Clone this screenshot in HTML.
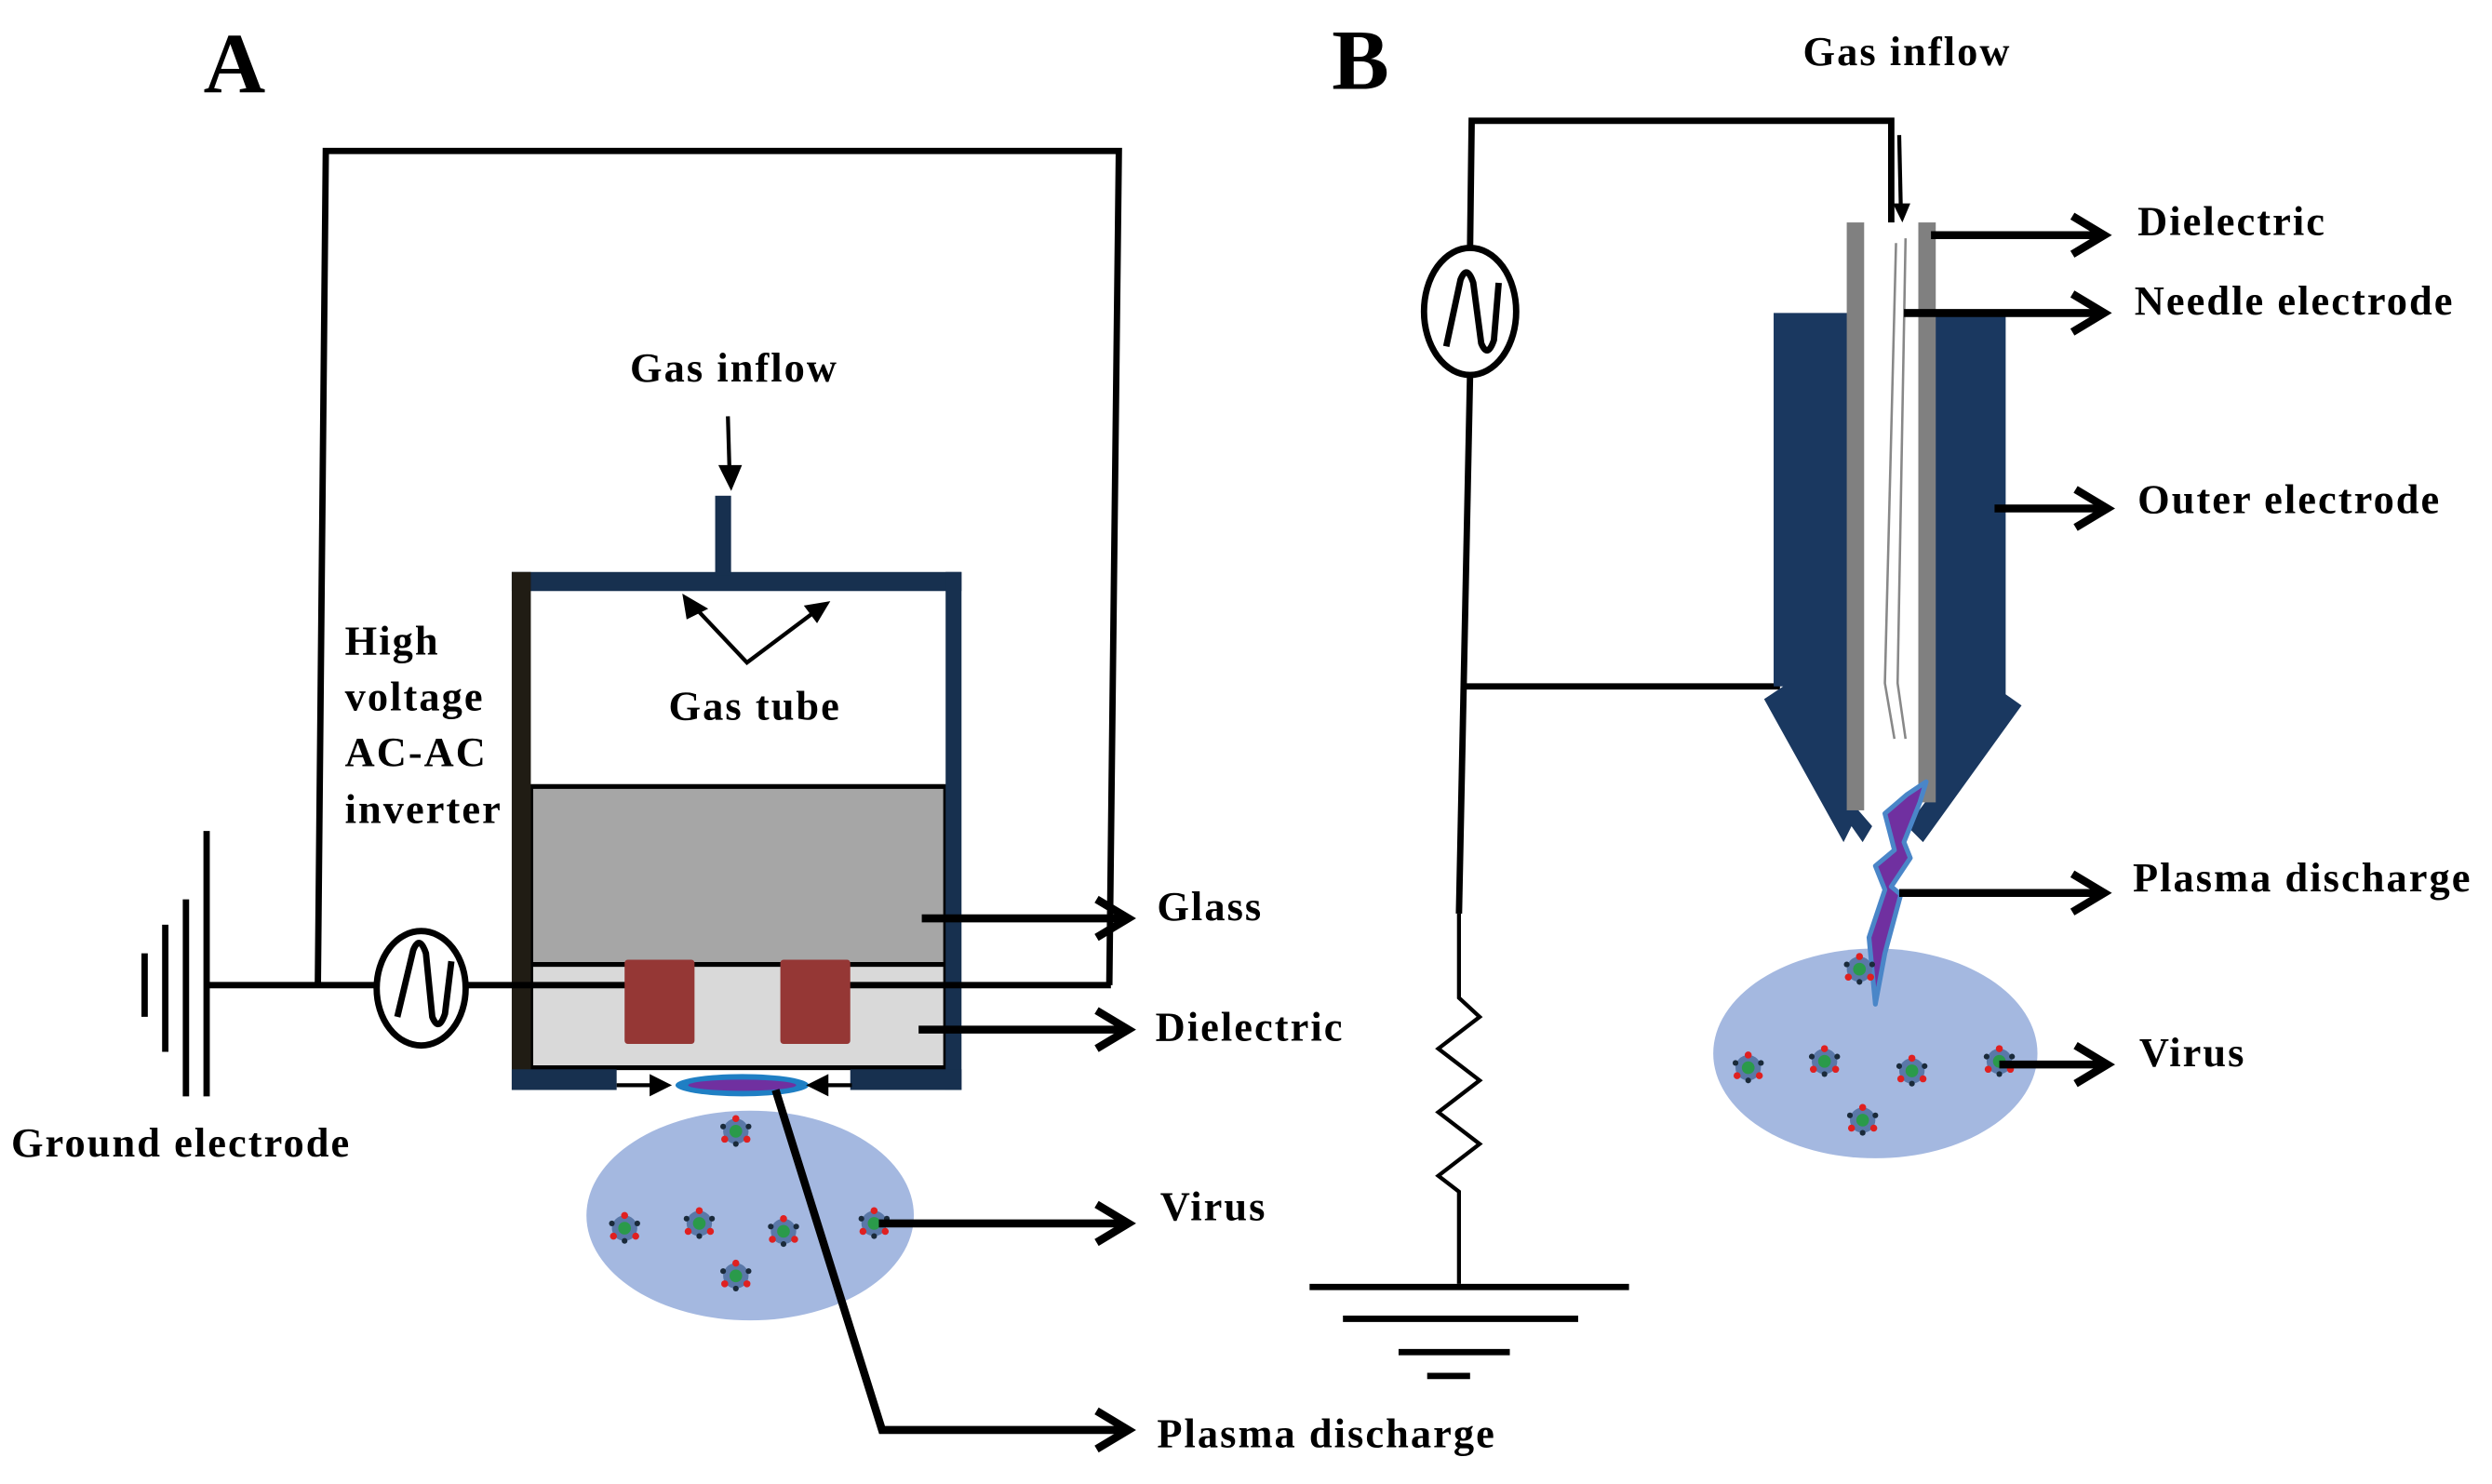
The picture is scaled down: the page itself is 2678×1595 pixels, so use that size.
<!DOCTYPE html>
<html><head><meta charset="utf-8"><style>
html,body{margin:0;padding:0;background:#fff;}
svg{display:block;}
text{font-family:"Liberation Serif",serif;font-weight:bold;fill:#000;letter-spacing:1.2px;}
</style></head><body>
<svg width="2678" height="1595" viewBox="0 0 1568 934" preserveAspectRatio="none" xmlns="http://www.w3.org/2000/svg">
<defs>
<g id="v">
<circle r="8" fill="#5a78a8"/>
<circle r="4" fill="#2a9a4a"/>
<circle cx="0" cy="-8" r="2.2" fill="#e02020"/>
<circle cx="-7" cy="5" r="2.2" fill="#e02020"/>
<circle cx="7" cy="5" r="2.2" fill="#e02020"/>
<circle cx="-8" cy="-3" r="1.8" fill="#1a2a3a"/>
<circle cx="8" cy="-3" r="1.8" fill="#1a2a3a"/>
<circle cx="0" cy="8" r="1.8" fill="#1a2a3a"/>
</g>
</defs>
<!-- A -->
<text x="128" y="58" font-size="54">A</text>
<g fill="none" stroke="#000" stroke-width="4">
<polyline points="200,620 205,95 704,95 698,620"/>
<line x1="130" y1="620" x2="237" y2="620"/>
</g>
<g stroke="#000" stroke-width="4">
<line x1="130" y1="523" x2="130" y2="690"/>
<line x1="117" y1="566" x2="117" y2="690"/>
<line x1="104" y1="582" x2="104" y2="662"/>
<line x1="91" y1="600" x2="91" y2="640"/>
</g>
<ellipse cx="265" cy="622" rx="28" ry="36" fill="#fff" stroke="#000" stroke-width="4"/>
<path d="M250,640 L260,598 Q264,588 268,600 L272,640 Q276,650 280,638 L284,605" fill="none" stroke="#000" stroke-width="4"/>
<!-- box -->
<rect x="334" y="372" width="261" height="123" fill="#fff"/>
<rect x="334" y="495" width="261" height="112" fill="#a6a6a6" stroke="#000" stroke-width="3"/>
<rect x="334" y="607" width="261" height="65" fill="#d9d9d9" stroke="#000" stroke-width="3"/>
<rect x="322" y="360" width="283" height="12" fill="#17304f"/>
<rect x="322" y="360" width="12" height="326" fill="#201c14"/>
<rect x="595" y="360" width="10" height="326" fill="#17304f"/>
<rect x="322" y="673" width="66" height="13" fill="#17304f"/>
<rect x="535" y="673" width="70" height="13" fill="#17304f"/>
<rect x="450" y="312" width="10" height="50" fill="#17304f"/>
<g stroke="#000" stroke-width="4">
<line x1="293" y1="620" x2="396" y2="620"/>
<line x1="530" y1="620" x2="699" y2="620"/>
</g>
<rect x="393" y="604" width="44" height="53" rx="2" fill="#953735"/>
<rect x="491" y="604" width="44" height="53" rx="2" fill="#953735"/>
<ellipse cx="467" cy="683" rx="42" ry="7" fill="#1f7fc4"/>
<ellipse cx="467" cy="683" rx="34" ry="3.5" fill="#7030a0"/>
<g stroke="#000" stroke-width="2.5" fill="#000">
<line x1="388" y1="683" x2="412" y2="683"/><polygon points="420,683 410,678 410,688"/>
<line x1="536" y1="683" x2="518" y2="683"/><polygon points="510,683 520,678 520,688"/>
<line x1="458" y1="262" x2="459" y2="296"/><polygon points="460,306 454,294 465,294"/>
<polyline points="436,381 470,417 514,384" fill="none"/>
<polygon points="431,376 433,388 443,383"/><polygon points="520,380 508,382 514,390"/>
</g>
<text x="462" y="240" font-size="26" text-anchor="middle">Gas inflow</text>
<text x="475" y="453" font-size="26" text-anchor="middle">Gas tube</text>
<text x="217" y="412" font-size="26">High</text>
<text x="217" y="447" font-size="26">voltage</text>
<text x="217" y="482" font-size="26">AC-AC</text>
<text x="217" y="518" font-size="26">inverter</text>
<text x="7" y="728" font-size="26">Ground electrode</text>
<ellipse cx="472" cy="765" rx="103" ry="66" fill="#a4b8e0"/>
<use href="#v" x="463" y="712"/><use href="#v" x="393" y="773"/><use href="#v" x="440" y="770"/>
<use href="#v" x="493" y="775"/><use href="#v" x="550" y="770"/><use href="#v" x="463" y="803"/>
<g fill="none" stroke="#000" stroke-width="5">
<line x1="580" y1="578" x2="708" y2="578"/><polyline points="690,566 710,578 690,590"/>
<line x1="578" y1="648" x2="708" y2="648"/><polyline points="690,636 710,648 690,660"/>
<line x1="553" y1="770" x2="708" y2="770"/><polyline points="690,758 710,770 690,782"/>
<polyline points="488,686 555,900 708,900"/><polyline points="690,888 710,900 690,912"/>
</g>
<text x="728" y="579" font-size="26">Glass</text>
<text x="727" y="655" font-size="26">Dielectric</text>
<text x="730" y="768" font-size="26">Virus</text>
<text x="728" y="911" font-size="26">Plasma discharge</text>
<!-- B -->
<text x="838" y="56" font-size="54">B</text>
<text x="1200" y="41" font-size="26" text-anchor="middle">Gas inflow</text>
<g fill="none" stroke="#000" stroke-width="4">
<polyline points="925,155 926,76 1190,76 1190,155"/>
<polyline points="925,235 918,575"/>
<line x1="920" y1="432" x2="1120" y2="432"/>
</g>
<polyline points="918,575 918,628 931,640 905,660 931,680 905,700 931,720 905,740 918,750 918,808" fill="none" stroke="#000" stroke-width="2.5"/>
<g stroke="#000" stroke-width="4">
<line x1="824" y1="810" x2="1025" y2="810"/>
<line x1="845" y1="830" x2="993" y2="830"/>
<line x1="880" y1="851" x2="950" y2="851"/>
<line x1="898" y1="866" x2="925" y2="866"/>
</g>
<ellipse cx="925" cy="196" rx="29" ry="40" fill="#fff" stroke="#000" stroke-width="4"/>
<path d="M910,218 L919,176 Q923,166 927,178 L932,216 Q936,226 940,214 L943,178" fill="none" stroke="#000" stroke-width="4"/>
<polygon points="1116,197 1165,197 1165,505 1178,520 1172,530 1165,520 1160,530 1110,440 1122,432 1116,432" fill="#1a3860"/>
<polygon points="1215,197 1262,197 1262,437 1272,444 1210,530 1200,520 1215,500" fill="#1a3860"/>
<rect x="1162" y="140" width="11" height="370" fill="#808080"/>
<rect x="1207" y="140" width="11" height="365" fill="#808080"/>
<rect x="1173" y="140" width="34" height="370" fill="#fff"/>
<polyline points="1193,153 1186,430 1192,465" fill="none" stroke="#888" stroke-width="1.5"/>
<polyline points="1199,150 1194,430 1199,465" fill="none" stroke="#888" stroke-width="1.5"/>
<line x1="1195" y1="85" x2="1196" y2="130" stroke="#000" stroke-width="2.5"/>
<polygon points="1197,140 1191,128 1202,128" fill="#000"/>
<ellipse cx="1180" cy="663" rx="102" ry="66" fill="#a4b8e0"/>
<polygon points="1212,492 1200,500 1186,512 1192,535 1180,545 1186,560 1176,590 1180,632 1186,600 1196,563 1190,558 1202,540 1198,530 1208,505" fill="#7030a0" stroke="#4a86c8" stroke-width="3" stroke-linejoin="round"/>
<use href="#v" x="1170" y="610"/><use href="#v" x="1100" y="672"/><use href="#v" x="1148" y="668"/>
<use href="#v" x="1203" y="674"/><use href="#v" x="1258" y="668"/><use href="#v" x="1172" y="705"/>
<g fill="none" stroke="#000" stroke-width="5">
<line x1="1215" y1="148" x2="1322" y2="148"/><polyline points="1304,136 1324,148 1304,160"/>
<line x1="1198" y1="197" x2="1322" y2="197"/><polyline points="1304,185 1324,197 1304,209"/>
<line x1="1255" y1="320" x2="1324" y2="320"/><polyline points="1306,308 1326,320 1306,332"/>
<line x1="1195" y1="562" x2="1322" y2="562"/><polyline points="1304,550 1324,562 1304,574"/>
<line x1="1258" y1="670" x2="1324" y2="670"/><polyline points="1306,658 1326,670 1306,682"/>
</g>
<text x="1345" y="148" font-size="26">Dielectric</text>
<text x="1343" y="198" font-size="26">Needle electrode</text>
<text x="1345" y="323" font-size="26">Outer electrode</text>
<text x="1342" y="561" font-size="26">Plasma discharge</text>
<text x="1346" y="671" font-size="26">Virus</text>
</svg>
</body></html>
